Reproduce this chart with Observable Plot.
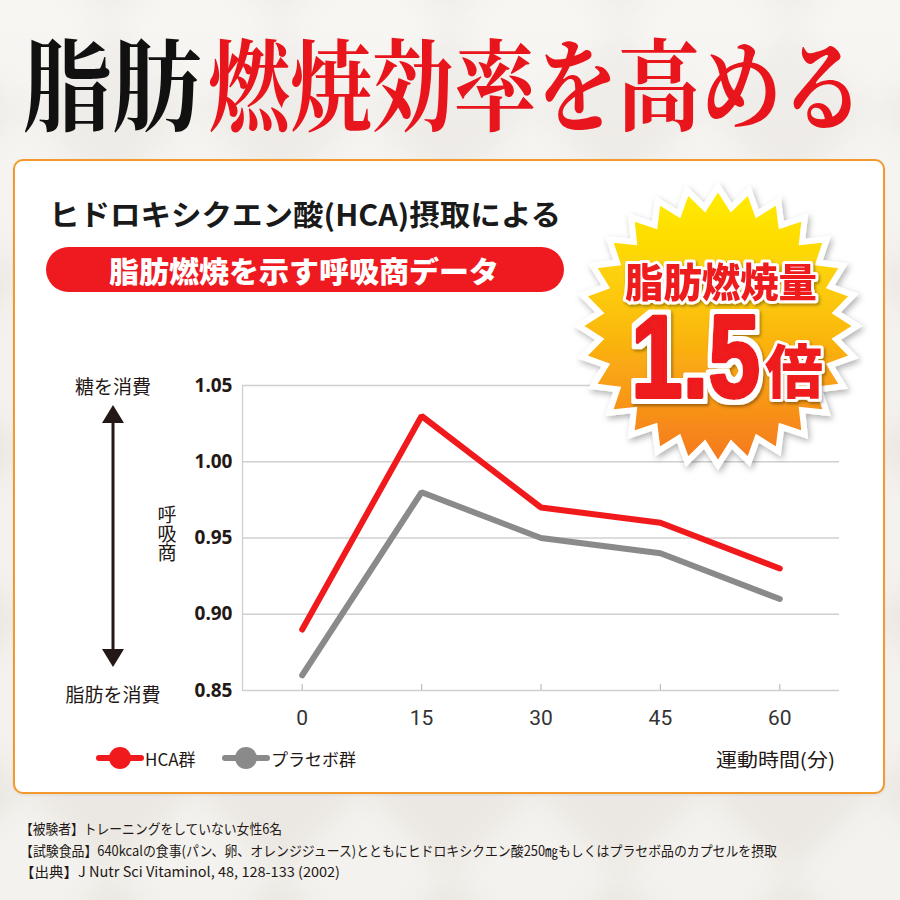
<!DOCTYPE html>
<html><head><meta charset="utf-8">
<script src="https://cdn.jsdelivr.net/npm/d3@7"></script>
<script src="https://cdn.jsdelivr.net/npm/@observablehq/plot@0.6"></script>
<style>
html,body{margin:0;padding:0;}
body{width:900px;height:900px;overflow:hidden;position:relative;font-family:"Noto Sans CJK JP","Noto Sans",sans-serif;}
#bg{position:absolute;left:0;top:0;width:900px;height:900px;overflow:hidden;background:#eeebe6;}
#bgInner{position:absolute;left:-450px;top:-450px;width:1800px;height:1800px;transform:rotate(45deg);filter:blur(14px);
 background:repeating-conic-gradient(#f4f2ee 0 25%, #ebe8e3 0 50%) 0 0/240px 240px;}
#bgFade{position:absolute;left:0;top:0;width:900px;height:900px;background:linear-gradient(180deg,rgba(255,255,255,.3),rgba(255,255,255,0) 40%,rgba(255,255,255,0));}
#box{position:absolute;left:13px;top:159px;width:868px;height:631px;border:2.5px solid #f29a2e;border-radius:10px;background:#fff;box-shadow:0 1px 3px rgba(0,0,0,.08);}
#chart{position:absolute;left:0;top:360px;}
#overlay{position:absolute;left:0;top:0;}
</style>
</head><body>
<div id="bg"><div id="bgInner"></div><div id="bgFade"></div></div>
<div id="box"></div>
<div id="chart"></div>
<svg id="overlay" width="900" height="900" viewBox="0 0 900 900"></svg>
<script>
// ---- data ----
const minutes = [0, 15, 30, 45, 60];
const hcaValues = [0.89, 1.03, 0.97, 0.96, 0.93];
const placeboValues = [0.86, 0.98, 0.95, 0.94, 0.91];
const seriesNames = ["HCA群", "プラセボ群"];
const seriesColors = ["#f01a1c", "#8a8a8a"];
const yTicks = [0.85, 0.90, 0.95, 1.00, 1.05];
const xTicks = [0, 15, 30, 45, 60];
const xTickLabels = ["0", "15", "30", "45", "60"];
const xDomain = [-7.5, 67.5];
const yDomain = [0.85, 1.05];

const rows = [
  ...minutes.map((m, i) => ({minute: m, value: placeboValues[i], series: seriesNames[1]})),
  ...minutes.map((m, i) => ({minute: m, value: hcaValues[i], series: seriesNames[0]}))
];

const chart = Plot.plot({
  width: 900, height: 380,
  marginLeft: 242, marginRight: 61, marginTop: 25, marginBottom: 50,
  x: {domain: xDomain},
  y: {domain: yDomain},
  color: {domain: seriesNames, range: seriesColors},
  style: {background: "transparent", overflow: "visible", fontFamily: "Roboto, 'Noto Sans', sans-serif"},
  marks: [
    Plot.ruleY(yTicks, {stroke: "#d0d0d0", strokeWidth: 1.3}),
    Plot.ruleX([xDomain[0]], {y1: yDomain[0], y2: yDomain[1], stroke: "#cfcfcf", strokeWidth: 1.3}),
    Plot.ruleX(xTicks, {y1: yDomain[0], y2: yDomain[0] + 0.004, stroke: "#bdbdbd", strokeWidth: 1.2}),
    Plot.axisY(yTicks, {tickSize: 0, tickPadding: 10, tickFormat: d3.format(".2f"), fontSize: 19, fontWeight: "bold", fontFamily: "'Noto Sans', 'Open Sans', sans-serif", fill: "#231815", label: null}),
    Plot.axisX(xTicks, {tickSize: 0, tickPadding: 20, tickFormat: d => xTickLabels[xTicks.indexOf(d)], fontSize: 21, fill: "#333", label: null}),
    Plot.line(rows, {x: "minute", y: "value", z: "series", stroke: "series", strokeWidth: 6, strokeLinecap: "round", strokeLinejoin: "miter"})
  ]
});
document.getElementById("chart").appendChild(chart);

// ---- overlay decorations & texts ----
const NS = "http://www.w3.org/2000/svg";
const ov = document.getElementById("overlay");
function el(tag, attrs, parent, text) {
  const e = document.createElementNS(NS, tag);
  for (const k in attrs) e.setAttribute(k, attrs[k]);
  if (text != null) e.textContent = text;
  (parent || ov).appendChild(e);
  return e;
}
const defs = el("defs", {});
const grad = el("linearGradient", {id: "badgeGrad", x1: 0, y1: 0, x2: 0, y2: 1}, defs);
el("stop", {offset: "0%", "stop-color": "#ffee00"}, grad);
el("stop", {offset: "45%", "stop-color": "#fcc30c"}, grad);
el("stop", {offset: "100%", "stop-color": "#f5761f"}, grad);
const sh = el("filter", {id: "shadow", x: "-20%", y: "-20%", width: "140%", height: "140%"}, defs);
el("feDropShadow", {dx: 2, dy: 3, stdDeviation: 3, "flood-color": "#000", "flood-opacity": 0.3}, sh);
const sh2 = el("filter", {id: "tshadow", x: "-20%", y: "-20%", width: "140%", height: "140%"}, defs);
el("feDropShadow", {dx: 1.5, dy: 2, stdDeviation: 1.5, "flood-color": "#000", "flood-opacity": 0.35}, sh2);
// white outline made by dilating the glyph shape (one text element, red fill + red stroke on top)
const ol = el("filter", {id: "outline15", x: "-20%", y: "-20%", width: "140%", height: "140%"}, defs);
el("feMorphology", {in: "SourceAlpha", operator: "dilate", radius: 5, result: "dil"}, ol);
el("feFlood", {"flood-color": "#ffffff", result: "wh"}, ol);
el("feComposite", {in: "wh", in2: "dil", operator: "in", result: "white"}, ol);
const mg = el("feMerge", {}, ol);
el("feMergeNode", {in: "white"}, mg);
el("feMergeNode", {in: "SourceGraphic"}, mg);

// Title (scaled horizontally to the reference's condensed width)
const titleFont = "'Noto Serif CJK JP','Noto Sans CJK JP',serif";
const t1 = el("g", {transform: "translate(22,80) scale(0.9,1)"});
el("text", {x: 0, y: 0, "dominant-baseline": "central", "font-size": 100, "font-weight": 700, "font-family": titleFont, fill: "#111"}, t1, "脂肪");
const t2 = el("g", {transform: "translate(208,80) scale(0.82,1)"});
el("text", {x: 0, y: 0, "dominant-baseline": "central", "font-size": 100, "font-weight": 700, "font-family": titleFont, fill: "#e8161c"}, t2, "燃焼効率を高める");

// Subtitle
el("text", {x: 49, y: 213, "dominant-baseline": "central", "font-size": 29, "font-weight": 700, fill: "#1a1a1a", textLength: 512, lengthAdjust: "spacingAndGlyphs"}, ov, "ヒドロキシクエン酸(HCA)摂取による");
// Red pill
el("rect", {x: 46, y: 247, width: 518, height: 45, rx: 22.5, fill: "#ee1a1f"});
el("text", {x: 304, y: 270, "text-anchor": "middle", "dominant-baseline": "central", "font-size": 29, "font-weight": 900, fill: "#fff", textLength: 390, lengthAdjust: "spacingAndGlyphs"}, ov, "脂肪燃焼を示す呼吸商データ");

// Left annotation
el("text", {x: 113, y: 385, "text-anchor": "middle", "dominant-baseline": "central", "font-size": 19, fill: "#231815"}, ov, "糖を消費");
el("text", {x: 113, y: 693, "text-anchor": "middle", "dominant-baseline": "central", "font-size": 19, fill: "#231815"}, ov, "脂肪を消費");
el("line", {x1: 113, y1: 418, x2: 113, y2: 655, stroke: "#231815", "stroke-width": 3});
el("path", {d: "M113,405 L124,423 L102,423 Z", fill: "#231815"});
el("path", {d: "M113,667 L124,649 L102,649 Z", fill: "#231815"});
el("text", {x: 167, y: 505, "font-size": 19, fill: "#231815", style: "writing-mode: vertical-rl;"}, ov, "呼吸商");

// Legend
seriesNames.forEach((name, i) => {
  const x0 = [99, 225][i];
  el("line", {x1: x0, y1: 758, x2: x0 + 42, y2: 758, stroke: seriesColors[i], "stroke-width": 6, "stroke-linecap": "round"});
  el("circle", {cx: x0 + 21, cy: 758, r: 11, fill: seriesColors[i]});
  el("text", {x: x0 + 46, y: 758, "dominant-baseline": "central", "font-size": 17, fill: "#231815"}, ov, name);
});
el("text", {x: 835, y: 758, "text-anchor": "end", "dominant-baseline": "central", "font-size": 19, fill: "#231815", textLength: 119, lengthAdjust: "spacingAndGlyphs"}, ov, "運動時間(分)");

// Footnotes
const notes = [
  ["【被験者】トレーニングをしていない女性6名", 262],
  ["【試験食品】640kcalの食事(パン、卵、オレンジジュース)とともにヒドロキシクエン酸250㎎もしくはプラセボ品のカプセルを摂取", 757],
  ["【出典】J Nutr Sci Vitaminol, 48, 128-133 (2002)", 320]
];
notes.forEach((n, i) => {
  el("text", {x: 20, y: [828, 850, 871][i], "dominant-baseline": "central", "font-size": 14, fill: "#231815", textLength: n[1], lengthAdjust: "spacingAndGlyphs"}, ov, n[0]);
});

// Badge
const cx = 718, cy = 326, R = 139, r = 119, spikes = 28;
let pts = [];
for (let k = 0; k < spikes * 2; k++) {
  const a = -Math.PI / 2 + k * Math.PI / spikes;
  const rr = k % 2 === 0 ? R : r;
  pts.push((cx + rr * Math.cos(a)).toFixed(1) + "," + (cy + rr * Math.sin(a)).toFixed(1));
}
el("polygon", {points: pts.join(" "), fill: "url(#badgeGrad)", stroke: "#fff", "stroke-width": 6, "stroke-linejoin": "miter", filter: "url(#shadow)"});
const bt = el("g", {filter: "url(#tshadow)"});
const tAttrs = {fill: "#ee1a1f", stroke: "#fff", "stroke-width": 6, "paint-order": "stroke", "stroke-linejoin": "round", "font-weight": 900};
el("text", Object.assign({x: 721, y: 280, "text-anchor": "middle", "dominant-baseline": "central", "font-size": 40, textLength: 192, lengthAdjust: "spacingAndGlyphs"}, tAttrs), bt, "脂肪燃焼量");
const g15 = el("g", {transform: "translate(631,397) scale(0.8,1)"}, bt);
el("text", {x: 0, y: 0, "font-size": 116, "font-weight": 700, "font-family": "'Liberation Sans', Arial, sans-serif", fill: "#ee1a1f", stroke: "#ee1a1f", "stroke-width": 4, "stroke-linejoin": "round", filter: "url(#outline15)"}, g15, "1.5");
el("text", Object.assign({x: 765, y: 393, "font-size": 58}, tAttrs), bt, "倍");
</script>
</body></html>
